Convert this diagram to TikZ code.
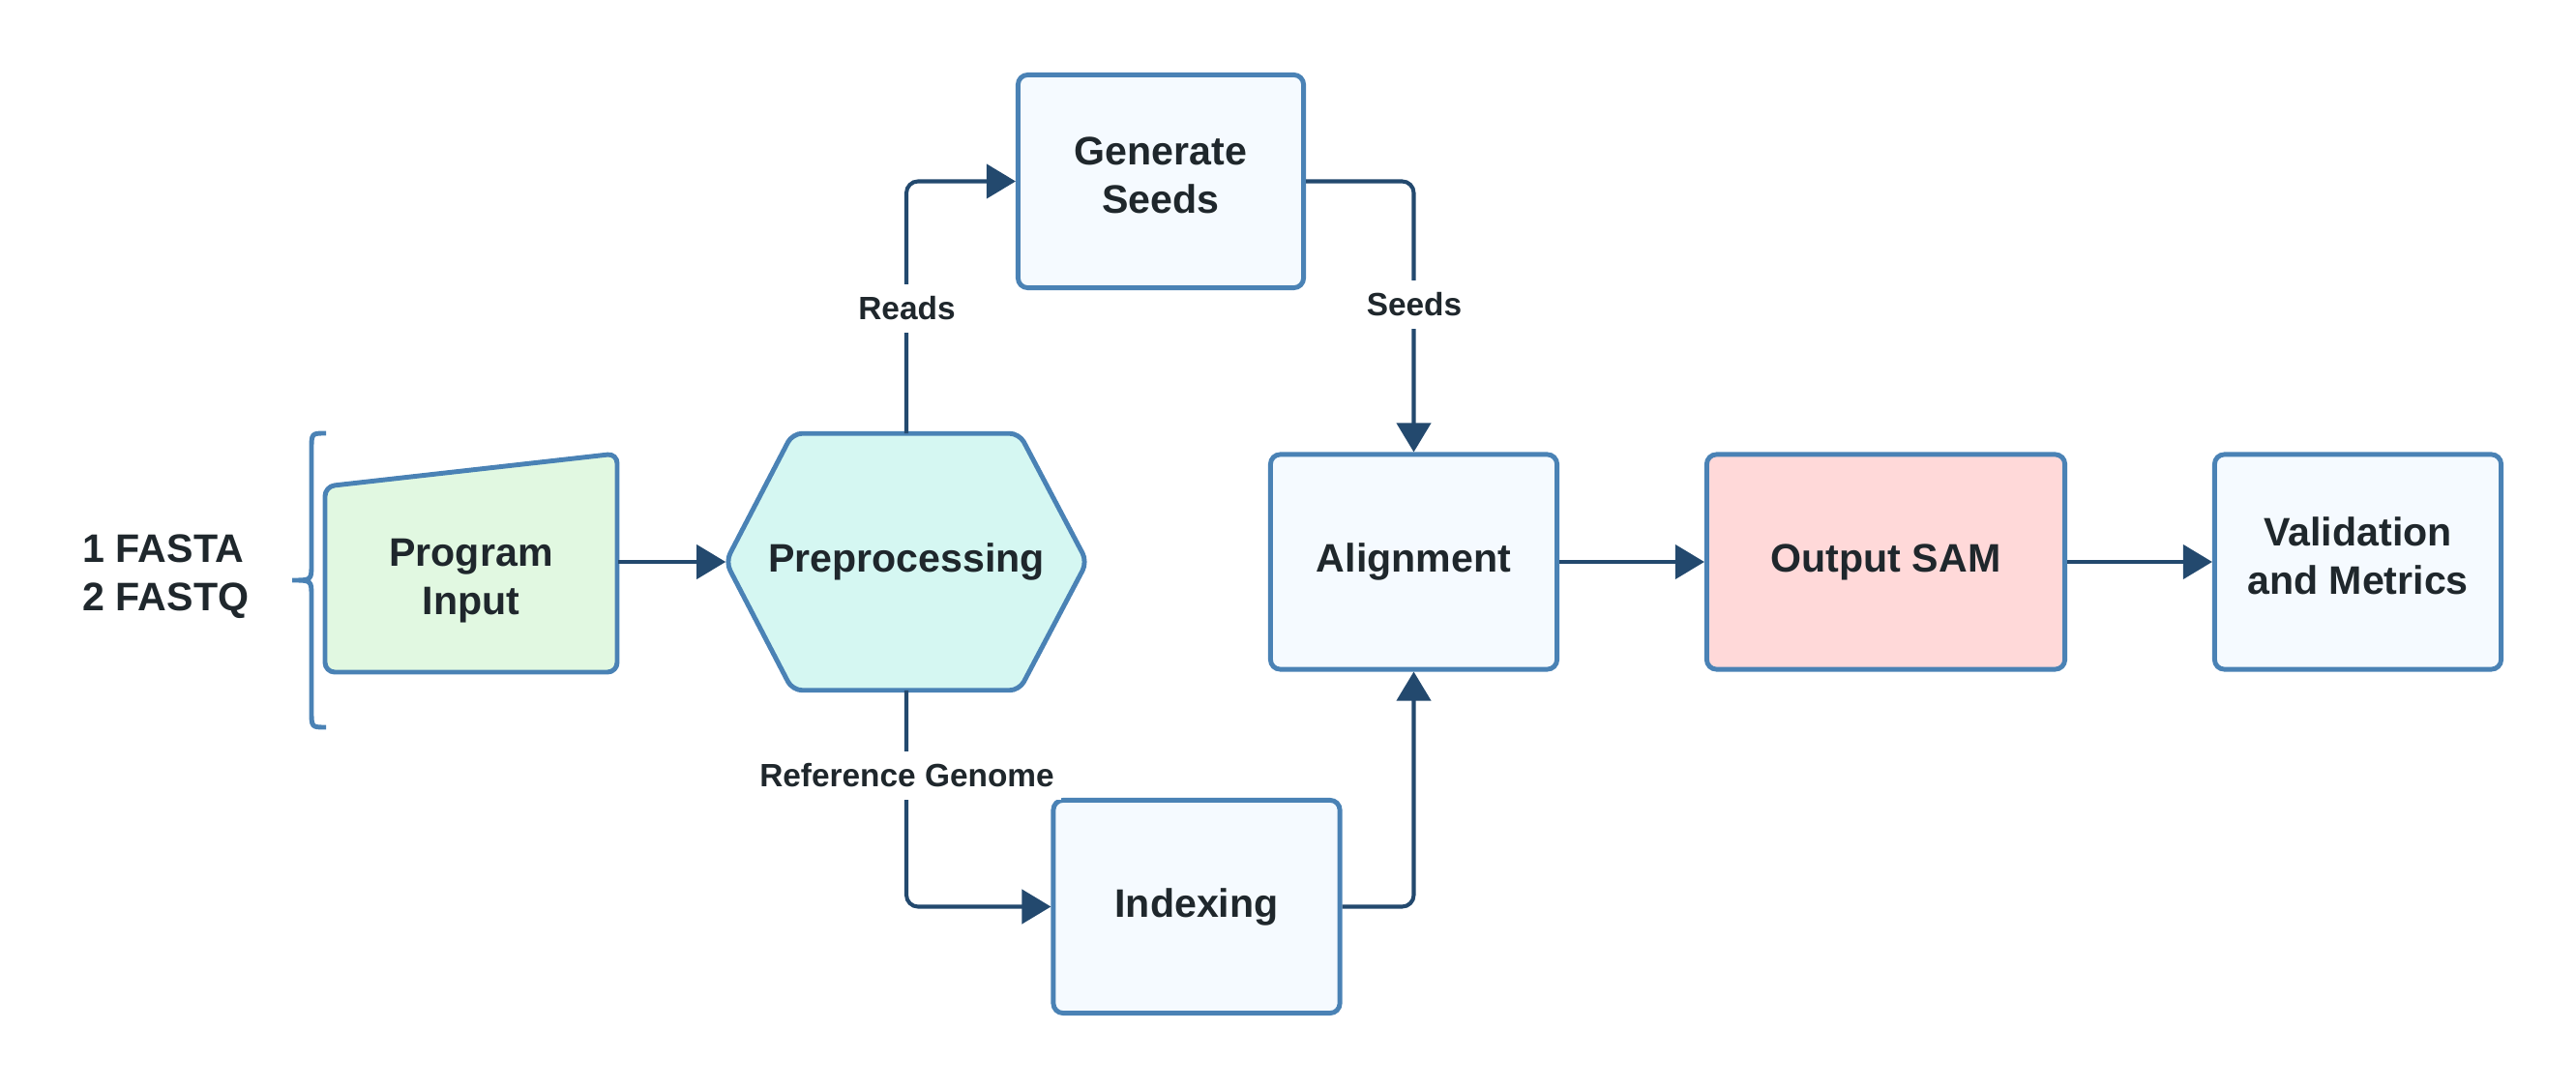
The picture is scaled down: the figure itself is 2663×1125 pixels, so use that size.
\documentclass[tikz,border=0pt]{standalone}
\usepackage{fontspec}
\setmainfont{Liberation Sans}
\usetikzlibrary{arrows.meta}
\definecolor{bord}{HTML}{4A82B5}
\definecolor{connc}{HTML}{23496E}
\definecolor{txt}{HTML}{1F272C}
\definecolor{fillbox}{HTML}{F5FAFF}
\definecolor{fillgreen}{HTML}{E1F8E1}
\definecolor{fillcyan}{HTML}{D5F7F2}
\definecolor{fillred}{HTML}{FFD9D9}
\begin{document}
\begin{tikzpicture}[x=0.01cm,y=-0.01cm,
  box/.style={draw=bord, line width=1.4pt, rounded corners=0.1cm, fill=fillbox, text=txt,
    font=\bfseries\fontsize{11.7}{14.2}\selectfont, align=center, inner sep=0pt},
  twoline/.style={text depth=0.12cm},
  shapeline/.style={draw=bord, line width=1.4pt, rounded corners=0.1cm},
  ntext/.style={text=txt, font=\bfseries\fontsize{11.7}{14.2}\selectfont, align=center, inner sep=0pt},
  conn/.style={draw=connc, line width=1.15pt, -{Triangle[length=0.3cm,width=0.35cm]}, rounded corners=0.12cm},
  lbl/.style={fill=white, text=txt, font=\bfseries\fontsize{9.5}{11}\selectfont, inner xsep=2pt, inner ysep=3.5pt}]
\useasboundingbox (0,0) rectangle (2663,1125);

% side text and brace
\node[anchor=west, align=left, text=txt, font=\bfseries\fontsize{11.7}{14.2}\selectfont, inner sep=0pt] (files) at (85,596) {1 FASTA\\2 FASTQ};
\draw[bord, line width=1.4pt] (337,448) .. controls (322,448) .. (322,465) -- (322,583)
  .. controls (322,600) .. (302,600) .. controls (322,600) .. (322,617) -- (322,735)
  .. controls (322,752) .. (337,752);

% Program input (manual input shape)
\draw[shapeline, fill=fillgreen] (336,503) -- (638,469) -- (638,695) -- (336,695) -- cycle;
\node[ntext, minimum width=3.02cm] (pi) at (487,601) {Program\\Input};

% Preprocessing hexagon
\node[ntext, minimum width=3.72cm, minimum height=2.64cm] (pre) at (937,581) {};
\draw[shapeline, fill=fillcyan] (pre.west) -- ([xshift=0.69cm]pre.north west) -- ([xshift=-0.70cm]pre.north east)
  -- (pre.east) -- ([xshift=-0.70cm]pre.south east) -- ([xshift=0.69cm]pre.south west) -- cycle;
\node[ntext] (pretext) at (pre.center) {Preprocessing};

% boxes
\node[box, twoline, minimum width=2.95cm, minimum height=2.20cm] (gen) at (1200,187.5) {Generate\\Seeds};
\node[box, minimum width=2.96cm, minimum height=2.22cm] (align) at (1461.5,581) {Alignment};
\node[box, minimum width=2.96cm, minimum height=2.20cm] (idx) at (1237,937.5) {Indexing};
\node[box, fill=fillred, minimum width=3.70cm, minimum height=2.22cm] (out) at (1949.5,581) {Output SAM};
\node[box, twoline, minimum width=2.96cm, minimum height=2.22cm] (val) at (2437.5,581) {Validation\\and Metrics};

% connectors
\draw[conn] (pi.east |- pre.west) -- (pre.west);
\draw[conn] (pre.north) |- (gen.west);
\draw[conn] (gen.east) -| (align.north);
\draw[conn] (pre.south) |- (idx.west);
\draw[conn] (idx.east) -| (align.south);
\draw[conn] (align.east) -- (out.west);
\draw[conn] (out.east) -- (val.west);

% labels
\node[lbl] (lreads) at (937.5,319) {Reads};
\node[lbl] (lseeds) at (1462,315) {Seeds};
\node[lbl] (lref) at (937.5,802) {Reference Genome};
\end{tikzpicture}
\end{document}
